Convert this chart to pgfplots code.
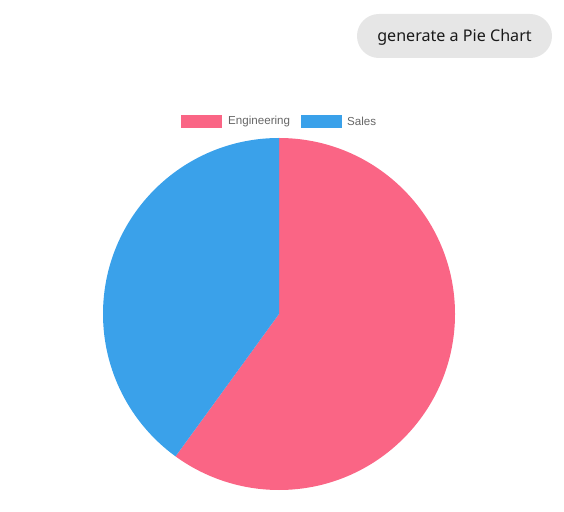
\documentclass[border=0pt]{standalone}
\usepackage{pgfplots}
\usepackage{pgfplotstable}
\pgfplotsset{compat=1.18}
\usepackage{fontspec}
\setmainfont{Liberation Sans}
\newfontfamily\bubblefont{Noto Sans}
\definecolor{eng}{RGB}{250,101,133}
\definecolor{sal}{RGB}{58,161,234}
\definecolor{bub}{RGB}{230,230,230}
\definecolor{legtxt}{RGB}{102,102,102}
\pgfplotstableread{
label value
Engineering 60
Sales 40
}\piedata
\begin{document}
\begin{tikzpicture}
\pgfplotstablegetelem{0}{value}\of\piedata \let\vEng\pgfplotsretval
\pgfplotstablegetelem{1}{value}\of\piedata \let\vSal\pgfplotsretval
\pgfmathsetmacro{\fEng}{\vEng/(\vEng+\vSal)}
\pgfmathsetmacro{\fSal}{\vSal/(\vEng+\vSal)}
\pgfmathsetmacro{\aEngEnd}{90-\fEng*360}
\pgfmathsetmacro{\aSalEnd}{90+\fSal*360}
\begin{axis}[x=1pt,y=1pt,xmin=0,xmax=564,ymin=0,ymax=511,hide axis,scale only axis,clip=false]
\path (axis cs:0,0) rectangle (axis cs:564,511);
% pie slices
\fill[eng] (axis cs:279,197) -- (axis cs:279,373) arc[start angle=90,end angle=\aEngEnd,radius=176pt] -- cycle;
\fill[sal] (axis cs:279,197) -- (axis cs:279,373) arc[start angle=90,end angle=\aSalEnd,radius=176pt] -- cycle;
% legend
\fill[eng] (axis cs:181,383) rectangle (axis cs:222,396);
\node[anchor=west,inner sep=0pt,text=legtxt,font=\fontsize{11.6}{14}\selectfont] at (axis cs:228,389.5) {Engineering};
\fill[sal] (axis cs:301,383) rectangle (axis cs:342,396);
\node[anchor=west,inner sep=0pt,text=legtxt,font=\fontsize{11.6}{14}\selectfont] at (axis cs:347,389.5) {Sales};
% bubble
\fill[bub,rounded corners=21.9pt] (axis cs:357,453) rectangle (axis cs:552,497);
\node[inner sep=0pt,text={rgb,255:red,26;green,26;blue,26},font=\bubblefont\fontsize{16.1}{19}\selectfont] at (axis cs:454.5,474) {generate a Pie Chart};
\end{axis}
\end{tikzpicture}
\end{document}
